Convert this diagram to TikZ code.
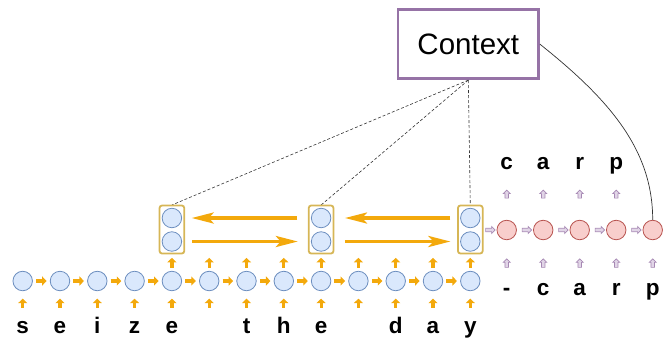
\documentclass[tikz,border=0pt]{standalone}
\usepackage{fontspec}
\setmainfont{Liberation Sans}
\usetikzlibrary{arrows.meta,shapes.arrows,calc}
\definecolor{cblue}{HTML}{DAE8FC}
\definecolor{sblue}{HTML}{6C8EBF}
\definecolor{cred}{HTML}{F8CECC}
\definecolor{sred}{HTML}{B85450}
\definecolor{yel}{HTML}{F3A90C}
\definecolor{gboxc}{HTML}{D6B656}
\definecolor{purp}{HTML}{9673A6}
\definecolor{lpurp}{HTML}{E1D5E7}
\begin{document}
\begin{tikzpicture}[x=1pt,y=-1pt,
 bcirc/.style={circle,draw=sblue,fill=cblue,line width=0.8pt,minimum size=19.5pt,inner sep=0},
 rcirc/.style={circle,draw=sred,fill=cred,line width=0.8pt,minimum size=19.5pt,inner sep=0},
 gbox/.style={draw=gboxc,line width=1.8pt,rounded corners=2.5pt,minimum width=24.7pt,minimum height=48pt,inner sep=0},
 yarr/.style={draw=yel,line width=3.2pt,-{Triangle[length=4.5pt,width=9pt]}},
 bigarr/.style={draw=yel,line width=3.5pt,-{Stealth[length=22pt,width=11pt,inset=5pt]}},
 parr/.style={single arrow,draw=purp!85,fill=lpurp,line width=0.7pt,inner sep=1.3pt,minimum width=7pt,minimum height=9.5pt,single arrow head extend=1.7pt},
 lett/.style={font=\fontsize{22.5}{26}\selectfont\bfseries,anchor=base,inner sep=0},
 dsh/.style={draw=black!80,line width=0.6pt,dash pattern=on 3pt off 2pt},
 ctxbox/.style={draw=purp,line width=2.8pt,fill=white,minimum width=140.5pt,minimum height=69pt,font=\fontsize{29.5}{34}\selectfont,inner sep=0},
]
\useasboundingbox (0,0) rectangle (666,341);

% bottom encoder row
\foreach \i in {0,...,12} {
  \node[bcirc] (b\i) at ({22.7+37.3*\i},281) {};
}
\foreach \i [evaluate=\i as \j using int(\i+1)] in {0,...,11} {
  \draw[yarr,shorten <=3.2pt,shorten >=3.2pt] (b\i) -- (b\j);
}
\foreach \i in {0,...,12} {
  \draw[yarr] ([yshift=-16.5pt]b\i.south) -- ([yshift=-7.5pt]b\i.south);
}
\foreach \i in {4,...,12} {
  \draw[yarr] ([yshift=3pt]b\i.north) -- ([yshift=13pt]b\i.north);
}
\foreach \i/\t in {0/s,1/e,2/i,3/z,4/e,6/t,7/h,8/e,10/d,11/a,12/y} {
  \node[lett] (l\i) at ({22.7+37.3*\i},333.5) {\t};
}

% context
\node[ctxbox] (ctx) at (468.3,44.2) {Context};

% grouped states
\foreach \i in {4,8,12} {
  \draw[dsh] (ctx.south) -- ({22.7+37.3*\i},205);
  \node[gbox] (g\i) at ({22.7+37.3*\i},229.5) {};
  \node[bcirc] (u\i) at ({22.7+37.3*\i},218) {};
  \node[bcirc] (d\i) at ({22.7+37.3*\i},241.5) {};
}

% big arrows
\draw[bigarr,shorten <=10.5pt,shorten >=6.5pt] (g8.west |- u8) -- (g4.east |- u4);
\draw[bigarr,shorten <=7pt,shorten >=10pt] (g4.east |- d4) -- (g8.west |- d8);
\draw[bigarr,shorten <=6.6pt,shorten >=10.6pt] (g12.west |- u12) -- (g8.east |- u8);
\draw[bigarr,shorten <=10.6pt,shorten >=6.6pt] (g8.east |- d8) -- (g12.west |- d12);

% decoder
\foreach \j in {0,...,4} {
  \node[rcirc] (r\j) at ({506.7+36.5*\j},230) {};
}
\node[parr] (ph0) at (489.5,230) {};
\foreach \j in {0,...,3} {
  \node[parr] (ph\the\numexpr\j+1\relax) at ({506.7+36.5*\j+19.3},230) {};
}
\foreach \j/\t in {0/c,1/a,2/r,3/p} {
  \node[lett] (t\j) at ({506.7+36.5*\j},169) {\t};
  \node[parr,shape border rotate=90,minimum height=8pt] (pu\j) at ({506.7+36.5*\j},195) {};
}
\foreach \j/\t in {0/-,1/c,2/a,3/r,4/p} {
  \node[lett] (s\j) at ({506.7+36.5*\j},295.7) {\t};
  \node[parr,shape border rotate=90,minimum height=8.5pt] (pd\j) at ({506.7+36.5*\j},264) {};
}

% curve from context
\draw[line width=0.7pt,black!80] (ctx.east) .. controls (610,100) and (652.7,150) .. (r4.north);
\end{tikzpicture}
\end{document}
